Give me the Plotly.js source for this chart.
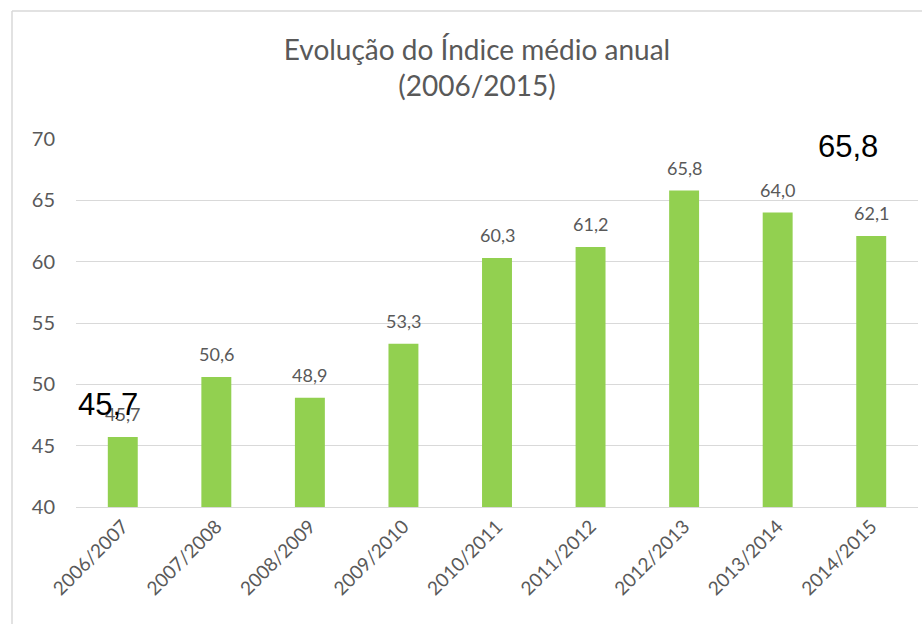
<!DOCTYPE html>
<html>
<head>
<meta charset="utf-8">
<script src="https://cdn.plot.ly/plotly-3.0.1.min.js"></script>
<style>html,body{margin:0;padding:0;background:#fff;}#chart{width:922px;height:624px;}</style>
</head>
<body>
<div id="chart"></div>
<script>
const categories = ["2006/2007","2007/2008","2008/2009","2009/2010","2010/2011","2011/2012","2012/2013","2013/2014","2014/2015"];
const values = [45.7, 50.6, 48.9, 53.3, 60.3, 61.2, 65.8, 64.0, 62.1];
const valueLabels = ["45,7","50,6","48,9","53,3","60,3","61,2","65,8","64,0","62,1"];
const yTicks = [40, 45, 50, 55, 60, 65, 70];
const calloutLabels = ["45,7", "65,8"];

const W = 922, H = 624;
const M = {l: 76, r: 4, t: 139, b: 117};
const PW = W - M.l - M.r, PH = H - M.t - M.b;
const px = x => (x - M.l) / PW;
const py = y => (H - M.b - y) / PH;
const FONT = 'Lato, "Open Sans", sans-serif';

const trace = {
  type: 'bar',
  x: categories,
  y: values,
  marker: {color: '#92d050'},
  hoverinfo: 'none'
};

const labelAnns = categories.map((c, i) => ({
  x: c, y: values[i], xref: 'x', yref: 'y',
  text: valueLabels[i], showarrow: false,
  xanchor: 'center', yanchor: 'bottom', yshift: 10,
  font: {family: FONT, size: 18, color: '#595959'}
}));

const layout = {
  width: W, height: H,
  margin: M,
  paper_bgcolor: '#fff',
  plot_bgcolor: '#fff',
  showlegend: false,
  bargap: 0.68,
  title: {
    text: 'Evolução do Índice médio anual<br>(2006/2015)',
    font: {family: FONT, size: 28, color: '#595959'},
    x: 477 / W, xanchor: 'center',
    y: 1 - 60 / H, yanchor: 'top'
  },
  xaxis: {
    type: 'category',
    tickangle: -45,
    tickfont: {family: FONT, size: 19, color: '#595959'},
    showgrid: false,
    showline: true, linecolor: '#d9d9d9', linewidth: 1,
    ticks: '',
    automargin: false
  },
  yaxis: {
    range: [40, 70],
    tickvals: yTicks,
    ticktext: yTicks.map(String),
    tickfont: {family: FONT, size: 20, color: '#595959'},
    showgrid: true, gridcolor: '#d9d9d9', gridwidth: 1,
    zeroline: false, showline: false,
    ticks: '', ticklabelstandoff: 20,
    automargin: false
  },
  shapes: [
    {type: 'line', xref: 'paper', yref: 'paper', x0: px(12), x1: px(12), y0: py(11), y1: py(630), line: {color: '#d9d9d9', width: 1.5}},
    {type: 'line', xref: 'paper', yref: 'paper', x0: px(12), x1: px(930), y0: py(11), y1: py(11), line: {color: '#d9d9d9', width: 1.5}},
    {type: 'rect', xref: 'paper', yref: 'paper', x0: px(798), x1: px(930), y0: py(125), y1: py(165), fillcolor: '#fff', line: {width: 0}, layer: 'above'}
  ],
  annotations: labelAnns.concat([
    {text: calloutLabels[0], xref: 'paper', yref: 'paper', x: px(108), y: py(404), xanchor: 'center', yanchor: 'middle', showarrow: false,
     font: {family: '"Liberation Sans", Arial, sans-serif', size: 31, color: '#000'}},
    {text: calloutLabels[1], xref: 'paper', yref: 'paper', x: px(848), y: py(146), xanchor: 'center', yanchor: 'middle', showarrow: false,
     font: {family: '"Liberation Sans", Arial, sans-serif', size: 31, color: '#000'}}
  ])
};

Plotly.newPlot('chart', [trace], layout, {displayModeBar: false, staticPlot: true});
</script>
</body>
</html>
